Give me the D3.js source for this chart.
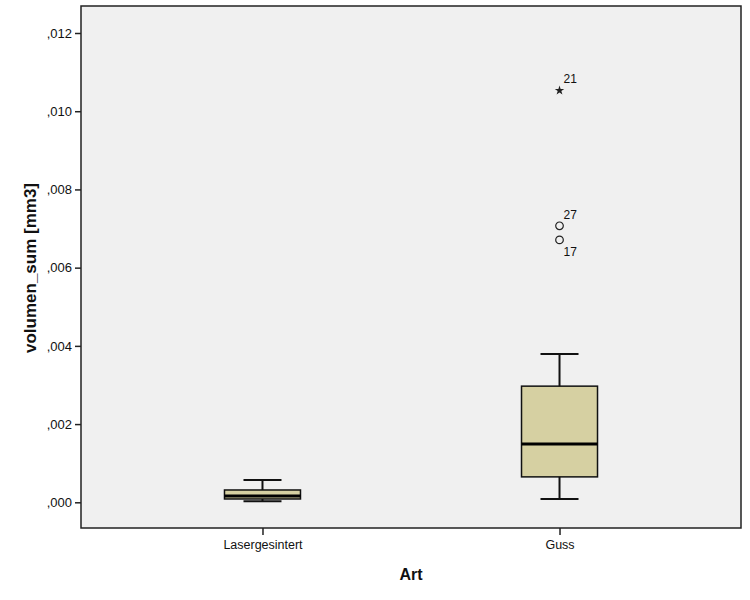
<!DOCTYPE html>
<html lang="de">
<head>
    <meta charset="UTF-8">
    <title>volumen_sum nach Art</title>
    <script src="https://cdn.jsdelivr.net/npm/d3@7/dist/d3.min.js"></script>
    <style>
        body { margin: 0; background: #fff; }
        svg text { font-family: "Liberation Sans", Arial, sans-serif; fill: #111; }
    </style>
</head>
<body>
<script>

    var width = 750;
    var height = 600;

    // Kategorien und Boxplot-Kennwerte
    var categories = ["Lasergesintert", "Guss"];
    var whiskerLow = [0.00003, 0.000085];
    var q1 = [0.000085, 0.00065];
    var median = [0.00016, 0.00149];
    var q3 = [0.000315, 0.00297];
    var whiskerHigh = [0.00057, 0.00379];

    // Ausreisser: Kategorie, Wert, Fallnummer, Typ
    var outlierCat = ["Guss", "Guss", "Guss"];
    var outlierVal = [0.01053, 0.00707, 0.00671];
    var outlierId = ["21", "27", "17"];
    var outlierType = ["extreme", "mild", "mild"];

    var yTicks = [0, 0.002, 0.004, 0.006, 0.008, 0.010, 0.012];

    var plot = {left: 81, right: 741, top: 6, bottom: 528};

    var svg = d3.select('body')
        .append('svg')
        .attr('width', width)
        .attr('height', height);

    var x = d3.scalePoint()
        .domain(categories)
        .range([plot.left, plot.right])
        .padding(0.611);

    var y = d3.scaleLinear()
        .domain([0, 0.012])
        .range([502.3, 33]);

    var boxW = 76;
    var capW = 38;

    // Hintergrund der Grafik
    svg.append('rect')
        .attr('x', plot.left)
        .attr('y', plot.top)
        .attr('width', plot.right - plot.left)
        .attr('height', plot.bottom - plot.top)
        .attr('fill', '#f0f0f0')
        .attr('stroke', '#222')
        .attr('stroke-width', 1.5);

    var fmt = function (d) {
        return d3.format('.3f')(d).replace('0.', ',');
    };

    // y-Achse
    var yAxis = d3.axisLeft(y)
        .tickValues(yTicks)
        .tickSize(6)
        .tickPadding(3)
        .tickFormat(fmt);

    var gy = svg.append('g')
        .attr('transform', 'translate(' + plot.left + ',0)')
        .call(yAxis);
    gy.select('.domain').remove();
    gy.selectAll('line').attr('stroke', '#222').attr('stroke-width', 1.5);
    gy.selectAll('text').attr('font-size', 13).attr('fill', '#111');

    // x-Achse
    var xAxis = d3.axisBottom(x)
        .tickSize(7)
        .tickPadding(5);

    var gx = svg.append('g')
        .attr('transform', 'translate(0,' + plot.bottom + ')')
        .call(xAxis);
    gx.select('.domain').remove();
    gx.selectAll('line').attr('stroke', '#222').attr('stroke-width', 1.5);
    gx.selectAll('text').attr('font-size', 12.5).attr('fill', '#111');

    // Achsentitel
    svg.append('text')
        .attr('x', (plot.left + plot.right) / 2)
        .attr('y', 580)
        .attr('text-anchor', 'middle')
        .attr('font-size', 16)
        .attr('font-weight', 'bold')
        .text('Art');

    svg.append('text')
        .attr('transform', 'translate(36,268) rotate(-90)')
        .attr('text-anchor', 'middle')
        .attr('font-size', 17)
        .attr('font-weight', 'bold')
        .text('volumen_sum [mm3]');

    var idx = d3.range(categories.length);
    var boxes = svg.append('g').selectAll('g')
        .data(idx)
        .enter()
        .append('g');

    // Whisker
    boxes.append('line')
        .attr('x1', function (i) { return x(categories[i]); })
        .attr('x2', function (i) { return x(categories[i]); })
        .attr('y1', function (i) { return y(whiskerLow[i]); })
        .attr('y2', function (i) { return y(whiskerHigh[i]); })
        .attr('stroke', '#111')
        .attr('stroke-width', 2);

    [whiskerLow, whiskerHigh].forEach(function (arr) {
        boxes.append('line')
            .attr('x1', function (i) { return x(categories[i]) - capW / 2; })
            .attr('x2', function (i) { return x(categories[i]) + capW / 2; })
            .attr('y1', function (i) { return y(arr[i]); })
            .attr('y2', function (i) { return y(arr[i]); })
            .attr('stroke', '#111')
            .attr('stroke-width', 2);
    });

    // Box
    boxes.append('rect')
        .attr('x', function (i) { return x(categories[i]) - boxW / 2; })
        .attr('y', function (i) { return y(q3[i]); })
        .attr('width', boxW)
        .attr('height', function (i) { return y(q1[i]) - y(q3[i]); })
        .attr('fill', '#d6d0a2')
        .attr('stroke', '#111')
        .attr('stroke-width', 1.5);

    // Median
    boxes.append('line')
        .attr('x1', function (i) { return x(categories[i]) - boxW / 2; })
        .attr('x2', function (i) { return x(categories[i]) + boxW / 2; })
        .attr('y1', function (i) { return y(median[i]); })
        .attr('y2', function (i) { return y(median[i]); })
        .attr('stroke', '#000')
        .attr('stroke-width', 3);

    // Ausreisser
    var outs = svg.append('g').selectAll('g')
        .data(d3.range(outlierVal.length))
        .enter()
        .append('g')
        .attr('transform', function (i) {
            return 'translate(' + x(outlierCat[i]) + ',' + y(outlierVal[i]) + ')';
        });

    outs.filter(function (i) { return outlierType[i] === 'mild'; })
        .append('circle')
        .attr('r', 3.8)
        .attr('fill', 'none')
        .attr('stroke', '#222')
        .attr('stroke-width', 1.2);

    outs.filter(function (i) { return outlierType[i] === 'extreme'; })
        .append('path')
        .attr('d', d3.symbol().type(d3.symbolStar).size(28))
        .attr('fill', '#222');

    outs.append('text')
        .attr('x', 4)
        .attr('y', function (i) { return i === 2 ? 16 : -7; })
        .attr('font-size', 12)
        .text(function (i) { return outlierId[i]; });

</script>
</body>
</html>
